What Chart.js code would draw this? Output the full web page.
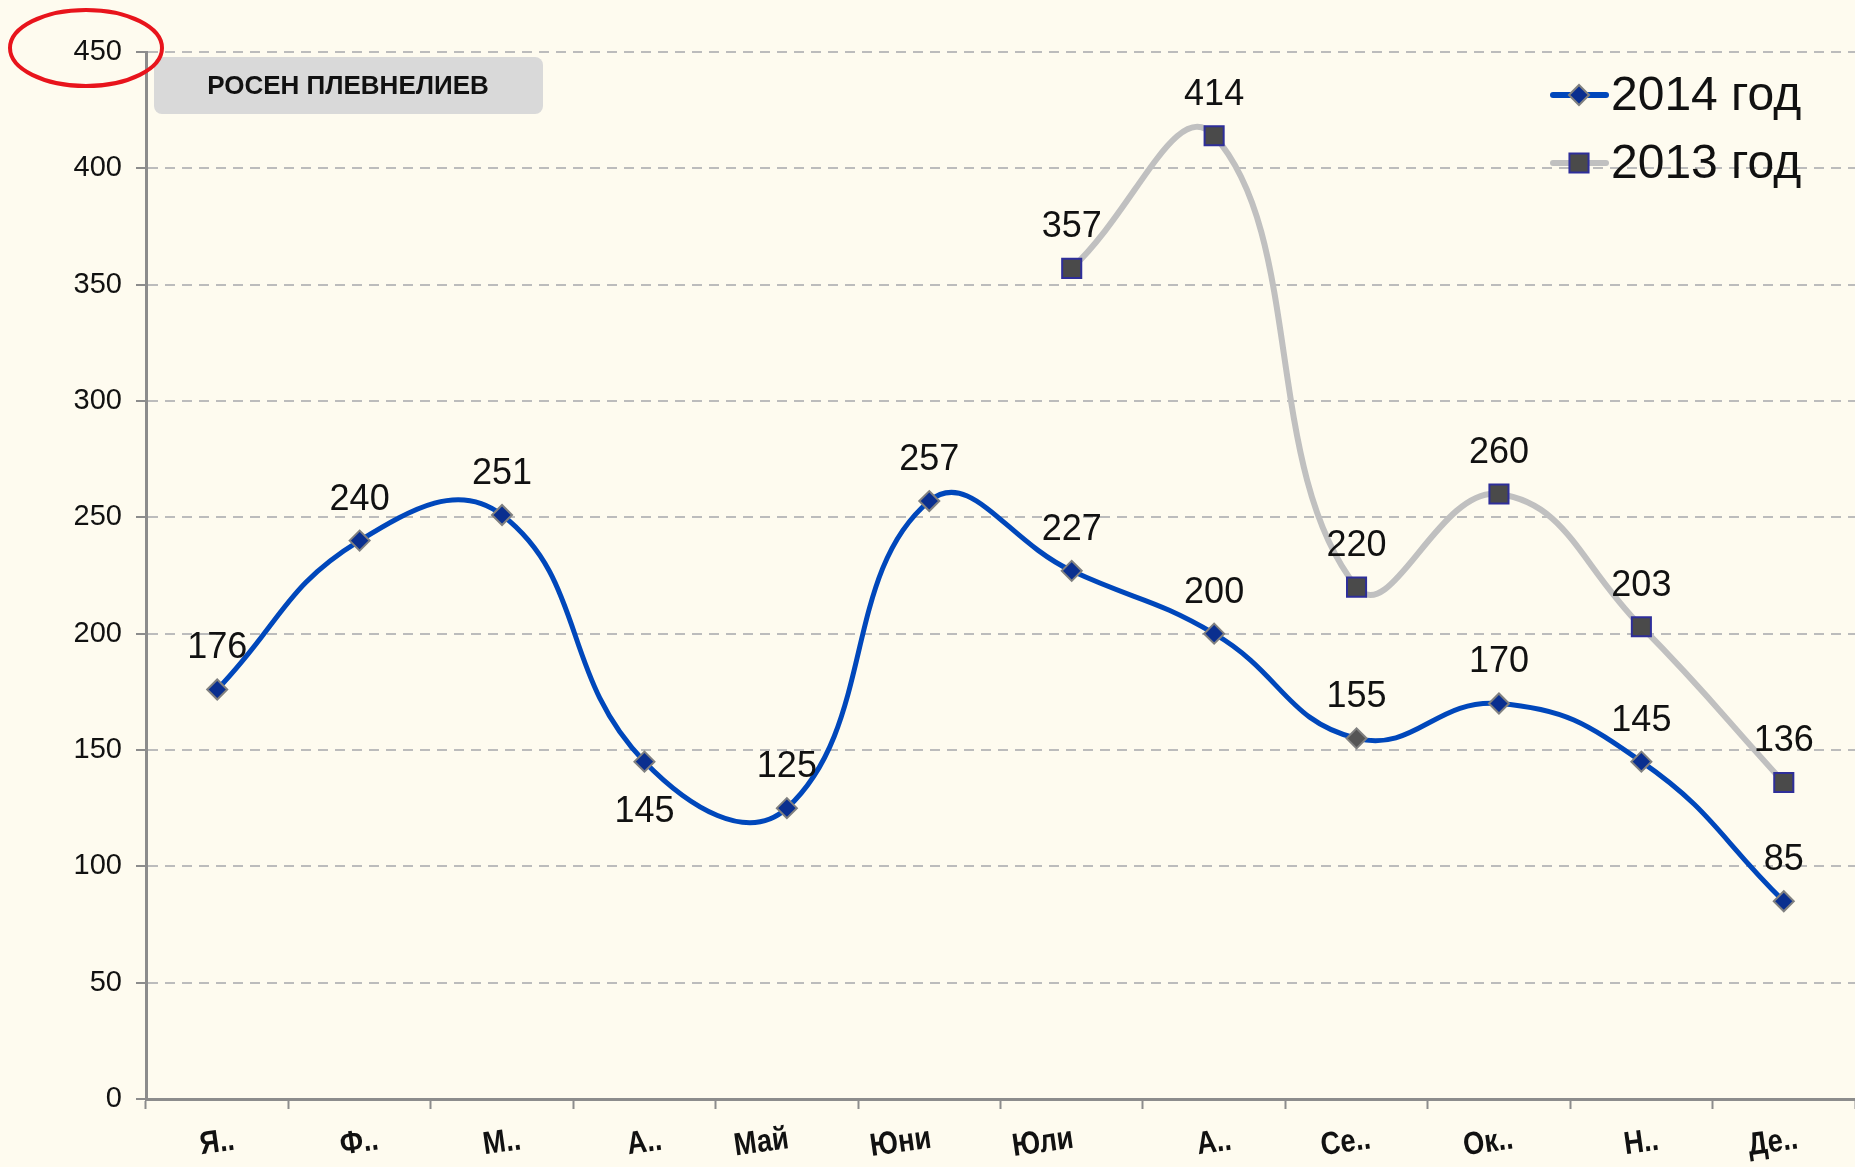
<!DOCTYPE html>
<html>
<head>
<meta charset="utf-8">
<script src="https://cdn.jsdelivr.net/npm/chart.js@4/dist/chart.umd.min.js"></script>
<style>
  html, body { margin: 0; padding: 0; background: #fefbef; }
  #wrap { width: 1855px; height: 1167px; overflow: hidden; }
</style>
</head>
<body>
<div id="wrap"><canvas id="chart" width="1855" height="1167"></canvas></div>
<script>
// data
const months = ['Я..', 'Ф..', 'М..', 'А..', 'Май', 'Юни', 'Юли', 'А..', 'Се..', 'Ок..', 'Н..', 'Де..'];
const sales2014 = [176, 240, 251, 145, 125, 257, 227, 200, 155, 170, 145, 85];
const sales2013 = [null, null, null, null, null, null, 357, 414, 220, 260, 203, 136];
const seriesNames = ['2014 год', '2013 год'];
const labelBelow2014 = [3]; // April label sits under the point
const titleText = 'РОСЕН ПЛЕВНЕЛИЕВ';

const FONT = '"Liberation Sans", Arial, sans-serif';

// point colours for 2014 (Sep marker is grey in the original)
const pointFill2014 = sales2014.map((v, i) => i === 8 ? '#555555' : '#0a2f8f');

// draw labels, x category text, legend, title box and red ellipse
const decorPlugin = {
    id: 'decor',
    afterDatasetsDraw(chart) {
        const ctx = chart.ctx;
        ctx.save();
        ctx.fillStyle = '#111';
        ctx.font = '36px ' + FONT;
        ctx.textAlign = 'center';
        ctx.textBaseline = 'middle';
        chart.data.datasets.forEach((ds, di) => {
            const meta = chart.getDatasetMeta(di);
            meta.data.forEach((pt, i) => {
                const v = ds.data[i];
                if (v === null) return;
                const below = di === 0 && labelBelow2014.includes(i);
                ctx.fillText(String(v), pt.x, pt.y + (below ? 50 : -41));
            });
        });
        ctx.restore();
    },
    afterDraw(chart) {
        const ctx = chart.ctx;
        const x = chart.scales.x;
        ctx.save();

        // x category labels, narrow and slightly tilted; whole words end at the point
        ctx.fillStyle = '#111';
        ctx.font = 'bold 32px ' + FONT;
        ctx.textBaseline = 'middle';
        const squeeze = 0.85;
        months.forEach((m, i) => {
            const px = x.getPixelForValue(i);
            const w = ctx.measureText(m).width * squeeze;
            const cut = m.endsWith('..');
            const cx = cut ? px - Math.max(0, w - 38) * 0.9 : px - w / 2 + 2;
            ctx.save();
            ctx.translate(cx, 1143);
            ctx.rotate(-8 * Math.PI / 180);
            ctx.scale(squeeze, 1);
            ctx.textAlign = 'center';
            ctx.fillText(m, 0, 0);
            ctx.restore();
        });

        // title box
        ctx.fillStyle = '#d9d9d9';
        ctx.beginPath();
        ctx.roundRect(154, 57, 389, 57, 8);
        ctx.fill();
        ctx.fillStyle = '#111';
        ctx.font = 'bold 26px ' + FONT;
        ctx.textAlign = 'center';
        ctx.textBaseline = 'middle';
        ctx.fillText(titleText, 348, 87);

        // red ellipse around the top tick
        ctx.strokeStyle = '#e8141c';
        ctx.lineWidth = 4;
        ctx.beginPath();
        ctx.ellipse(86, 48, 76, 38, 0, 0, Math.PI * 2);
        ctx.stroke();

        // legend
        const items = [
            { y: 95, color: '#0047bb', style: 'rectRot', r: 10, fill: '#0a2f8f', border: '#808080' },
            { y: 163, color: '#c0c0c0', style: 'rect', r: 13.5, fill: '#4a4a4a', border: '#2e2e9a' }
        ];
        items.forEach((it, i) => {
            ctx.strokeStyle = it.color;
            ctx.lineWidth = 6;
            ctx.lineCap = 'round';
            ctx.beginPath();
            ctx.moveTo(1553, it.y);
            ctx.lineTo(1606, it.y);
            ctx.stroke();
            ctx.fillStyle = it.fill;
            ctx.strokeStyle = it.border;
            ctx.lineWidth = 2;
            Chart.helpers.drawPoint(ctx, { pointStyle: it.style, radius: it.r, rotation: 0, borderWidth: 2 }, 1579, it.y);
            ctx.fillStyle = '#111';
            ctx.font = '48px ' + FONT;
            ctx.textAlign = 'left';
            ctx.textBaseline = 'middle';
            ctx.fillText(seriesNames[i], 1611, it.y + 2);
        });
        ctx.restore();
    }
};

new Chart(document.getElementById('chart').getContext('2d'), {
    type: 'line',
    data: {
        labels: months,
        datasets: [{
            label: seriesNames[0],
            data: sales2014,
            borderColor: '#0047bb',
            borderWidth: 5,
            tension: 0.45,
            pointStyle: 'rectRot',
            pointRadius: 10,
            pointHoverRadius: 10,
            pointBackgroundColor: pointFill2014,
            pointBorderColor: '#808080',
            pointBorderWidth: 2
        }, {
            label: seriesNames[1],
            data: sales2013,
            borderColor: '#c0c0c0',
            borderWidth: 6,
            tension: 0.45,
            pointStyle: 'rect',
            pointRadius: 13.5,
            pointHoverRadius: 13.5,
            pointBackgroundColor: '#4a4a4a',
            pointBorderColor: '#2e2e9a',
            pointBorderWidth: 2
        }]
    },
    options: {
        responsive: false,
        devicePixelRatio: 1,
        animation: false,
        layout: { autoPadding: false, padding: { top: 52, right: 0, left: 0, bottom: 0 } },
        scales: {
            x: {
                offset: true,
                grid: {
                    offset: true,
                    drawOnChartArea: false,
                    drawTicks: true,
                    tickLength: 10,
                    tickColor: '#8c8c8c',
                    tickWidth: 2
                },
                border: { color: '#8c8c8c', width: 3 },
                ticks: { display: false },
                afterFit(scale) { scale.height = 68; }
            },
            y: {
                min: 0,
                max: 450,
                ticks: {
                    stepSize: 50,
                    color: '#111',
                    padding: 14,
                    font: { family: FONT, size: 29 }
                },
                grid: {
                    color: '#bcbcbc',
                    lineWidth: 2,
                    tickLength: 10,
                    tickColor: '#8c8c8c',
                    tickWidth: 2,
                    tickBorderDash: [1, 0]
                },
                border: { color: '#8c8c8c', width: 3, dash: [10, 7] },
                afterFit(scale) { scale.width = 146; }
            }
        },
        plugins: {
            legend: { display: false },
            tooltip: { enabled: false }
        }
    },
    plugins: [decorPlugin]
});
</script>
</body>
</html>
